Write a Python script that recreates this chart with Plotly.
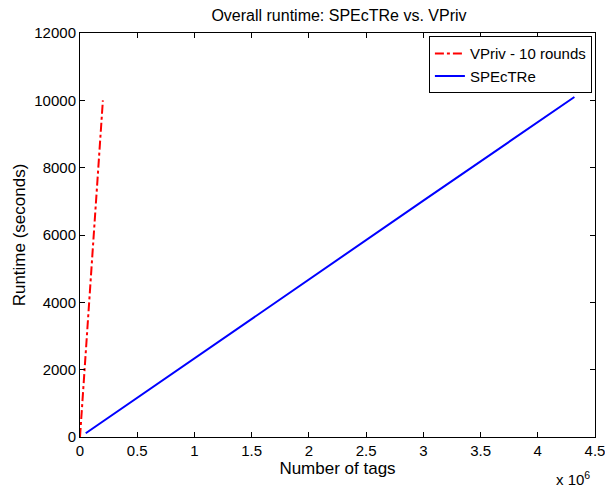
import plotly.graph_objects as go

# VPriv - 10 rounds
vpriv_tags = [0, 20000, 100000, 200000]
vpriv_runtime = [0, 1000, 5000, 10000]

# SPEcTRe
spectre_tags = [50000, 1000000, 2000000, 3000000, 4320000]
spectre_runtime = [110, 2340, 4680, 7020, 10100]

x_ticks = [0, 500000, 1000000, 1500000, 2000000, 2500000, 3000000, 3500000, 4000000, 4500000]
x_tick_labels = ["0", "0.5", "1", "1.5", "2", "2.5", "3", "3.5", "4", "4.5"]
y_ticks = [0, 2000, 4000, 6000, 8000, 10000, 12000]

FAMILY = "Liberation Sans, Arial, sans-serif"
FONT = dict(family=FAMILY, size=15, color="black")
TITLE_FONT = dict(family=FAMILY, size=16, color="black")
LABEL_FONT = dict(family=FAMILY, size=17, color="black")

fig = go.Figure()
fig.add_trace(go.Scatter(
    x=vpriv_tags, y=vpriv_runtime,
    mode="lines", name="VPriv - 10 rounds",
    line=dict(color="red", width=2, dash="dashdot"),
))
fig.add_trace(go.Scatter(
    x=spectre_tags, y=spectre_runtime,
    mode="lines", name="SPEcTRe",
    line=dict(color="blue", width=2),
))

axis_common = dict(
    showline=True, linecolor="black", linewidth=1,
    mirror="ticks", ticks="inside", ticklen=5, tickcolor="black",
    showgrid=False, zeroline=False, tickfont=FONT,
    ticklabeloverflow="allow", automargin=False,
)

fig.update_layout(
    width=605, height=487,
    paper_bgcolor="white", plot_bgcolor="white",
    font=FONT,
    margin=dict(l=80, r=10, t=33, b=50),
    title=dict(text="Overall runtime: SPEcTRe vs. VPriv", x=0.5603, xanchor="center",
               y=0.969, yanchor="middle", font=TITLE_FONT),
    xaxis=dict(range=[0, 4500000], tickvals=x_ticks, ticktext=x_tick_labels,
               title=dict(text="Number of tags", standoff=0, font=LABEL_FONT), **axis_common),
    yaxis=dict(range=[0, 12000], tickvals=y_ticks, tickformat="d",
               title=dict(text="Runtime (seconds)", standoff=4, font=LABEL_FONT), **axis_common),
    legend=dict(x=0.994, xanchor="right", y=0.992, yanchor="top",
                bgcolor="white", bordercolor="black", borderwidth=1,
                font=FONT, tracegroupgap=0),
    showlegend=True,
)

fig.add_annotation(text="x 10<sup>6</sup>", xref="paper", yref="paper",
                   x=0.994, y=-0.075, xanchor="right", yanchor="top",
                   showarrow=False, font=FONT)

# drop the default 8px body margin so the figure fills the window exactly
fig.write_html("out.html", config={"displayModeBar": False},
               post_script="document.body.style.margin='0px';")
